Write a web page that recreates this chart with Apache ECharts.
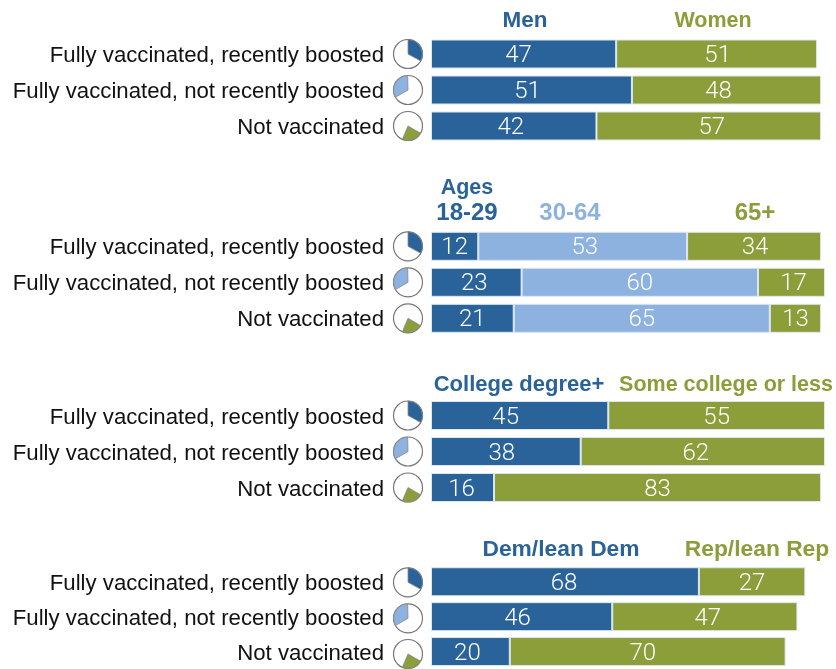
<!DOCTYPE html>
<html><head><meta charset="utf-8">
<script src="https://cdn.jsdelivr.net/npm/echarts@6/dist/echarts.min.js"></script>
<style>html,body{margin:0;padding:0;background:#fff}#c{width:836px;height:669px}</style>
</head><body><div id="c"></div>
<script>
const categories = ['Fully vaccinated, recently boosted','Fully vaccinated, not recently boosted','Not vaccinated'];
const men = [47,51,42];
const women = [51,48,57];
const ages1829 = [12,23,21];
const ages3064 = [53,60,65];
const ages65 = [34,17,13];
const collegePlus = [45,38,16];
const someCollege = [55,62,83];
const demLean = [68,46,20];
const repLean = [27,47,70];
const groupShares = [33,33,23];

const DARK='#2a6399', LIGHT='#8db2e0', OLIVE='#8b9e3a';
const FONT='"Liberation Sans", Arial, sans-serif';
const panels = [
  {top:36, series:[[men,DARK,[-5,-4,-3]],[women,OLIVE,[1,-8,3]]]},
  {top:228.3, series:[[ages1829,DARK,[0,-2,0]],[ages3064,LIGHT,[2,0,0]],[ages65,OLIVE,[1,2,0]]]},
  {top:397.5, series:[[collegePlus,DARK,[-14,-4,-1]],[someCollege,OLIVE,[0,-7,0]]]},
  {top:564.3, series:[[demLean,DARK,[-1,-4,-3]],[repLean,OLIVE,[0,3,-5]]]}
];
const headers = [
  ['Men',525,21,DARK,22.5],['Women',713,21,OLIVE,21.5],
  ['Ages',467,188,DARK,21.5],['18-29',467,213,DARK,24],['30-64',570,213,LIGHT,24],['65+',755,213,OLIVE,24],
  ['College degree+',519,385,DARK,22],['Some college or less',726,385,OLIVE,21.5],
  ['Dem/lean Dem',561,550,DARK,22.8],['Rep/lean Rep',757,550,OLIVE,22.8]
];
const pieStyle=[[90,DARK],[210,LIGHT],[-30,OLIVE]];

const grid=[],xAxis=[],yAxis=[],series=[];
panels.forEach((p,i)=>{
  grid.push({left:431,width:394,top:p.top,height:108});
  xAxis.push({type:'value',gridIndex:i,min:0,max:100,show:false});
  yAxis.push({type:'category',gridIndex:i,inverse:true,data:categories,
    axisLine:{show:false},axisTick:{show:false},splitLine:{show:false},
    axisLabel:{color:'#111',fontFamily:FONT,fontSize:22.2,margin:47,align:'right',verticalAlign:'top',lineHeight:4}});
  p.series.forEach(([vals,color,dx])=>{
    series.push({type:'bar',xAxisIndex:i,yAxisIndex:i,stack:'p'+i,barWidth:29,
      silent:true,animation:false,
      data:vals.map((v,k)=>({value:v,label:{offset:[dx[k],2]}})),
      itemStyle:{color,borderColor:'#dce6ef',borderWidth:1},
      label:{show:true,position:'inside',color:'#fff',fontFamily:'Roboto, '+FONT,fontWeight:300,fontSize:24}});
  });
  groupShares.forEach((share,j)=>{
    const center=[408,Math.min(p.top+18+36*j,654)];
    series.push({type:'pie',silent:true,animation:false,radius:[0,14.5],center,
      label:{show:false},labelLine:{show:false},
      data:[{value:1,itemStyle:{color:'#fff',borderColor:'#777',borderWidth:1.2}}]});
    series.push({type:'pie',silent:true,animation:false,radius:[0,14.5],center,
      startAngle:pieStyle[j][0],label:{show:false},labelLine:{show:false},
      data:[{value:share,itemStyle:{color:pieStyle[j][1],borderColor:'#888',borderWidth:0.8}},
            {value:100-share,itemStyle:{color:'transparent',borderWidth:0}}]});
  });
});
const chart=echarts.init(document.getElementById('c'),null,{renderer:'canvas'});
chart.setOption({
  backgroundColor:'#fff',animation:false,tooltip:{show:false},legend:{show:false},
  grid,xAxis,yAxis,series,
  graphic:headers.map(([text,x,y,color,size])=>({type:'text',x,y,silent:true,
    style:{text,fill:color,font:'bold '+size+'px '+FONT,align:'center',verticalAlign:'middle'}}))
});
</script></body></html>
